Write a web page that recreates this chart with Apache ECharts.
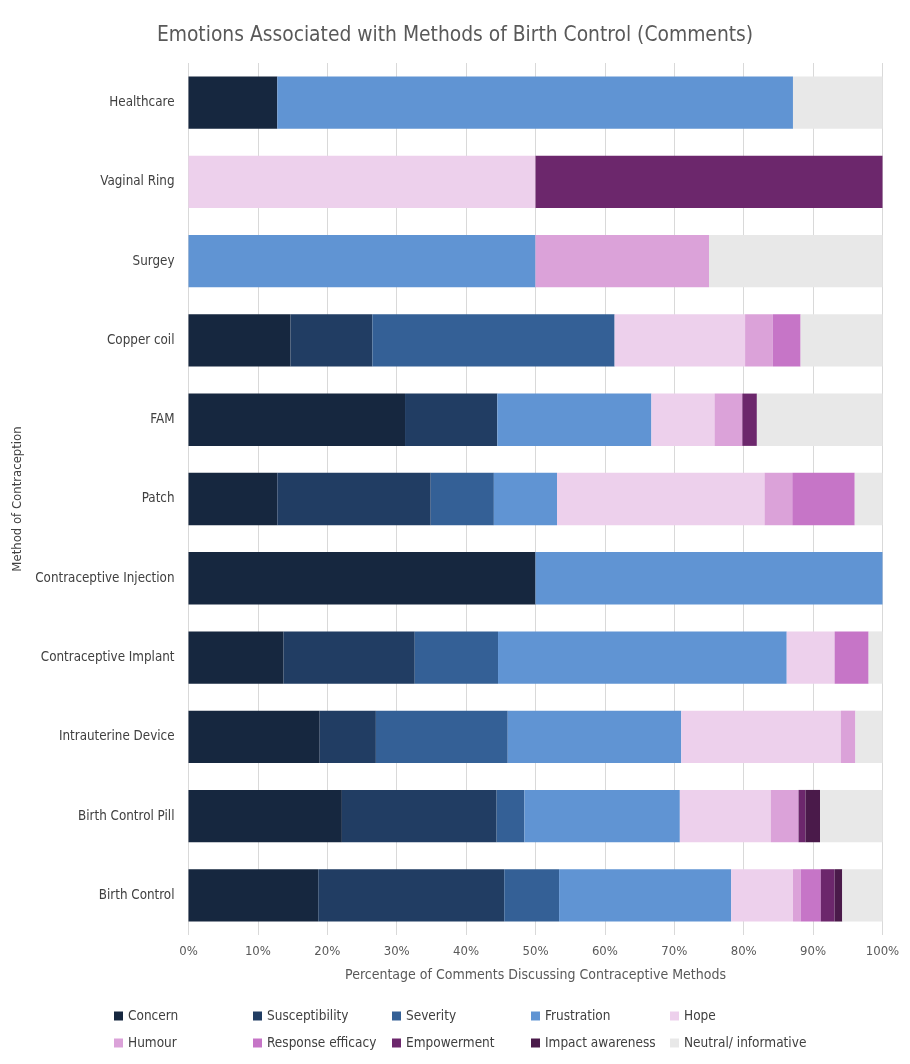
<!DOCTYPE html>
<html>
<head>
<meta charset="utf-8">
<script src="https://cdn.jsdelivr.net/npm/echarts@6/dist/echarts.min.js"></script>
<style>html,body{margin:0;padding:0;background:#fff}#c{width:910px;height:1064px}</style>
</head>
<body>
<div id="c"></div>
<script>
// Categories (bottom to top)
const categories = ['Birth Control','Birth Control Pill','Intrauterine Device','Contraceptive Implant','Contraceptive Injection','Patch','FAM','Copper coil','Surgey','Vaginal Ring','Healthcare'];
const xTicks = ['0%','10%','20%','30%','40%','50%','60%','70%','80%','90%','100%'];
const concern          = [18.7, 22.1, 18.9, 13.7, 50, 12.8, 31.2, 14.7, 0, 0, 12.8];
const susceptibility   = [26.8, 22.3, 8.1, 18.9, 0, 22.1, 13.3, 11.8, 0, 0, 0];
const severity         = [7.9, 4.0, 19.0, 12.0, 0, 9.1, 0, 34.9, 0, 0, 0];
const frustration      = [24.8, 22.4, 25.0, 41.6, 50, 9.1, 22.2, 0, 50, 0, 74.3];
const hope             = [8.9, 13.1, 23.0, 6.9, 0, 29.9, 9.1, 18.8, 0, 50, 0];
const humour           = [1.1, 4.0, 2.1, 0, 0, 4.0, 4.0, 4.0, 25, 0, 0];
const responseEfficacy = [2.9, 0, 0, 4.9, 0, 9.0, 0, 4.0, 0, 0, 0];
const empowerment      = [2.0, 1.0, 0, 0, 0, 0, 2.1, 0, 0, 50, 0];
const impactAwareness  = [1.1, 2.1, 0, 0, 0, 0, 0, 0, 0, 0, 0];
const neutral          = [5.8, 9.0, 3.9, 2.0, 0, 4.0, 18.1, 11.8, 25, 0, 12.9];

const seriesNames = ['Concern','Susceptibility','Severity','Frustration','Hope','Humour','Response efficacy','Empowerment','Impact awareness','Neutral/ informative'];
const seriesData = [concern, susceptibility, severity, frustration, hope, humour, responseEfficacy, empowerment, impactAwareness, neutral];
const colors = ['#16273F','#213D63','#346096','#6094D3','#EDD0EC','#DBA2D9','#C675C7','#6C276C','#4A1A4A','#E8E8E8'];

const FONT = "'Liberation Sans Narrow','DejaVu Sans Condensed','Roboto Condensed','Liberation Sans',sans-serif";

const chart = echarts.init(document.getElementById('c'), null, {renderer:'canvas'});
// one vertical legend per column: column i holds items i and i+5
const legends = [0,1,2,3,4].map(i=>({
  orient:'vertical', left:114 + 139*i, top:1009, padding:0,
  itemWidth:9, itemHeight:9, itemGap:13,
  icon:'rect', selectedMode:false,
  data:[seriesNames[i], seriesNames[i+5]],
  textStyle:{fontFamily:FONT, fontSize:13.5, color:'#404040', lineHeight:13}
}));
chart.setOption({
  animation:false,
  color:colors,
  textStyle:{fontFamily:FONT},
  title:{
    text:'Emotions Associated with Methods of Birth Control (Comments)',
    left:'center', top:20,
    textStyle:{fontFamily:FONT, fontSize:20.8, fontWeight:'normal', color:'#595959'}
  },
  legend:legends,
  grid:{left:188.5, right:27.5, top:63, bottom:129, containLabel:false, outerBoundsMode:'none'},
  xAxis:{
    type:'value', min:0, max:100, interval:10,
    axisLine:{show:false}, axisTick:{show:false},
    splitLine:{show:true, lineStyle:{color:'#D9D9D9', width:1}},
    axisLabel:{formatter:(v)=>xTicks[Math.round(v/10)], color:'#595959', fontSize:13, fontFamily:FONT, margin:10},
    name:'Percentage of Comments Discussing Contraceptive Methods',
    nameLocation:'middle', nameGap:33,
    nameTextStyle:{color:'#595959', fontSize:14, fontFamily:FONT}
  },
  yAxis:{
    type:'category', data:categories,
    axisLine:{show:false}, axisTick:{show:false},
    axisLabel:{color:'#404040', fontSize:13.3, fontFamily:FONT, margin:14},
    name:'Method of Contraception', nameLocation:'middle', nameGap:163, nameRotate:90,
    nameTextStyle:{color:'#404040', fontSize:13, fontFamily:FONT}
  },
  series: seriesNames.map((n,i)=>({
    name:n, type:'bar', stack:'total', data:seriesData[i],
    barCategoryGap:'34%',
    itemStyle:{color:colors[i]},
    emphasis:{disabled:true}
  }))
});
</script>
</body>
</html>
